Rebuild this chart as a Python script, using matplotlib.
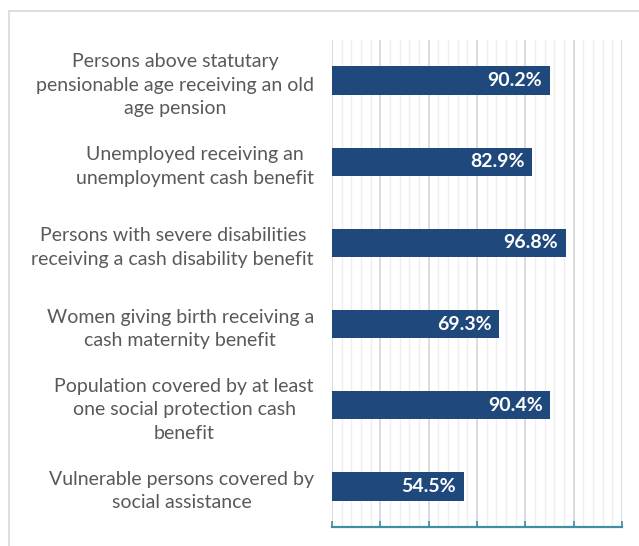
import numpy as np
import matplotlib.pyplot as plt
from matplotlib.patches import Rectangle
from matplotlib.ticker import MultipleLocator

categories = ['Persons above statutary\npensionable age receiving an old\nage pension',
              'Unemployed receiving an\nunemployment cash benefit',
              'Persons with severe disabilities\nreceiving a cash disability benefit',
              'Women giving birth receiving a\ncash maternity benefit',
              'Population covered by at least\none social protection cash\nbenefit',
              'Vulnerable persons covered by\nsocial assistance']
values = [0.902, 0.829, 0.968, 0.693, 0.904, 0.545]
value_labels = ['90.2%', '82.9%', '96.8%', '69.3%', '90.4%', '54.5%']

plt.rcParams['font.family'] = ['Lato', 'DejaVu Sans']

W, H = 639, 546
fig = plt.figure(figsize=(W / 100, H / 100), dpi=100)

# chart frame (light gray border, runs off the picture right and bottom)
fig.patches.append(Rectangle((9 / W, -0.1), 1.2, 1 - 11 / H + 0.1, transform=fig.transFigure,
                             fill=False, edgecolor='#d9d9d9', linewidth=1.2))

ax = fig.add_axes([332 / W, 1 - 527 / H, (622 - 332) / W, (527 - 40) / H])

y = np.arange(len(categories))
ax.barh(y, values, height=0.35, color='#1f497d', zorder=3)
for yi, v, lab in zip(y, values, value_labels):
    ax.text(v - 0.032, yi, lab, ha='right', va='center', color='white',
            fontsize=14, fontweight='bold', zorder=4)

ax.set_xlim(0, 1.2)
ax.set_ylim(len(categories) - 0.5, -0.5)
ax.xaxis.set_major_locator(MultipleLocator(0.2))
ax.xaxis.set_minor_locator(MultipleLocator(0.04))
ax.grid(axis='x', which='major', color='#d9d9d9', linewidth=1.3, zorder=0)
ax.grid(axis='x', which='minor', color='#efefef', linewidth=1.0, zorder=0)
ax.tick_params(axis='x', which='major', direction='in', length=4, color='#3f8ea3',
               width=1.2, labelbottom=False)
ax.tick_params(axis='x', which='minor', length=0)

ax.set_yticks(y)
ax.set_yticklabels(categories, fontsize=14, color='#595959', multialignment='center',
                   linespacing=1.45)
ax.tick_params(axis='y', length=0, pad=13)

for s in ['top', 'right', 'left']:
    ax.spines[s].set_visible(False)
ax.spines['bottom'].set_color('#3f8ea3')
ax.spines['bottom'].set_linewidth(1.6)

fig.savefig('out.png', dpi=100)
